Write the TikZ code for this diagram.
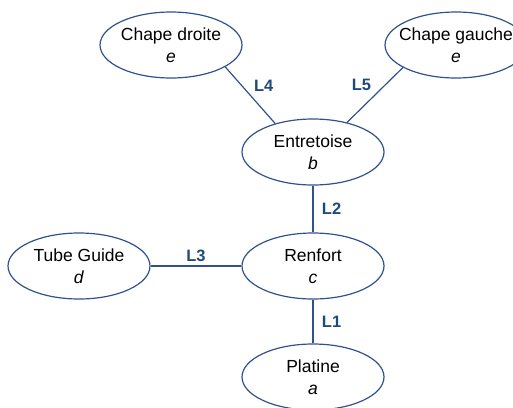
\documentclass[tikz,border=0pt]{standalone}
\usepackage{fontspec}
\setmainfont{Liberation Sans}
\usetikzlibrary{shapes.geometric}
\definecolor{traitbleu}{RGB}{47,82,143}
\definecolor{lienbleu}{RGB}{31,73,125}

\begin{document}
\begin{tikzpicture}[x=1pt,y=-1pt]
		\tikzset{piece/.style = {shape=ellipse,draw=traitbleu,line width=1.2pt,minimum width=142pt,minimum height=66pt,inner xsep=-15pt,inner ysep=0pt,align=center,font=\fontsize{17.5}{21.5}\selectfont}}
		\tikzset{liaison/.style = {draw=traitbleu,line width=1.2pt}}
		\tikzset{etiq/.style = {text=lienbleu,font=\fontsize{16.5}{19}\selectfont\bfseries}}
		\useasboundingbox (0,0) rectangle (513,407);
		% pieces
		\node[piece] (cd) at (171,45) {Chape droite\\\textit{e}};
		\node[piece] (cg) at (456,45) {Chape gauche\\\textit{e}};
		\node[piece] (en) at (313,152) {Entretoise\\\textit{b}};
		\node[piece] (tg) at (79,266) {Tube Guide\\\textit{d}};
		\node[piece] (re) at (313,266) {Renfort\\\textit{c}};
		\node[piece] (pl) at (313,377) {Platine\\\textit{a}};
		
		%liaisons
		\draw[liaison] (re) to node[right=5pt,etiq]{L1} (pl) ;
		\draw[liaison] (en) to node[right=5pt,etiq]{L2} (re) ;
		\draw[liaison] (tg) to node[above,etiq]{L3} (re) ;
		\draw[liaison] (cd.-22) to node[above right,etiq]{L4} (en.143) ;
		\draw[liaison] (cg.203) to node[above left,etiq]{L5} (en.41) ;
\end{tikzpicture}
\end{document}
